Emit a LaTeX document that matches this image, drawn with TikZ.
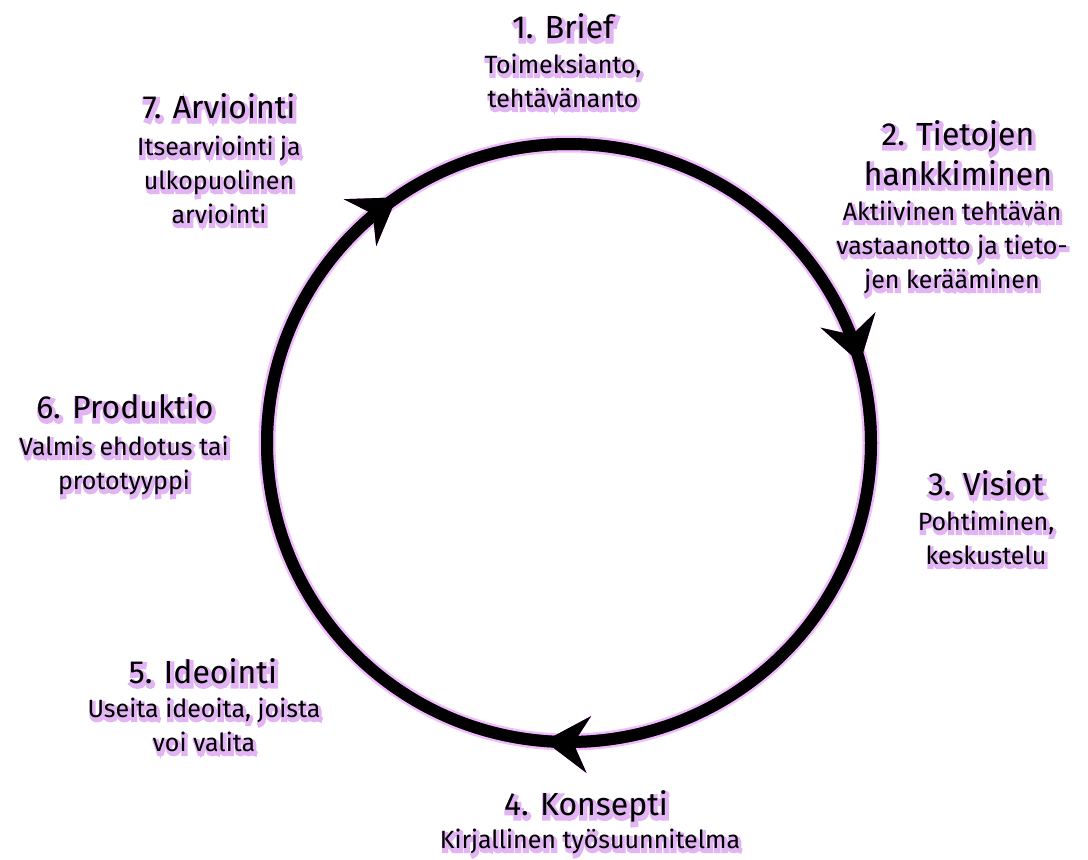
\documentclass[tikz,border=0pt]{standalone}
\usepackage{fontspec}
\setmainfont{Fira Sans}
\newfontfamily\glowfont{Fira Sans}[FakeBold=16]
\usetikzlibrary{arrows.meta,decorations.markings}
\definecolor{glowc}{RGB}{226,180,244}
\definecolor{ringglow}{RGB}{200,45,232}
\definecolor{ringhalo}{RGB}{238,190,250}
\newcommand\glw[1]{\leavevmode\rlap{\kern1.5pt\raisebox{-3pt}{\glowfont\color{glowc}#1}}#1}
\newcommand\lines[1]{\begin{tabular}[t]{@{}c@{}}#1\end{tabular}}
\tikzset{
 ttl/.style={inner sep=0pt, anchor=base, font=\fontsize{32}{40}\selectfont},
 sub/.style={inner sep=0pt, anchor=base, font=\fontsize{25}{34}\selectfont},
 ring/.style={decoration={markings,
   mark=at position 0.153 with {\arrow{Stealth[length=44pt,width=56pt,inset=15pt]}},
   mark=at position 0.457 with {\arrow{Stealth[length=44pt,width=56pt,inset=15pt]}},
   mark=at position 0.763 with {\arrow{Stealth[length=44pt,width=56pt,inset=15pt]}}},
   postaction={decorate}},
}
\begin{document}
\begin{tikzpicture}[x=1pt,y=1pt]
\useasboundingbox (0,0) rectangle (1088,-860);
\coordinate (c) at (569,-443);
% ring glow and ring
\draw[ring, ringhalo, line width=17pt, shift={(3.5,-3.5)}] (c) ++(180:302pt and 299pt) arc[start angle=180, end angle=-180, x radius=302pt, y radius=299pt];
\draw[ring, ringglow, line width=12pt, shift={(2.5,-2.5)}] (c) ++(180:302pt and 299pt) arc[start angle=180, end angle=-180, x radius=302pt, y radius=299pt];
\draw[ring, black, line width=12pt] (c) ++(180:302pt and 299pt) arc[start angle=180, end angle=-180, x radius=302pt, y radius=299pt];
% labels
\node[ttl] (t1) at (563,-38) {\glw{1. Brief}};
\node[sub] (s1) at (563,-73) {\lines{\glw{Toimeksianto,}\\\glw{tehtävänanto}}};
\node[ttl] (t2) at (958,-145) {\lines{\glw{2. Tietojen}\\\glw{hankkiminen}}};
\node[sub] (s2) at (952,-220) {\lines{\glw{Aktiivinen tehtävän}\\\glw{vastaanotto ja tieto-}\\\glw{jen kerääminen}}};
\node[ttl] (t3) at (986,-495) {\glw{3. Visiot}};
\node[sub] (s3) at (986,-530) {\lines{\glw{Pohtiminen,}\\\glw{keskustelu}}};
\node[ttl] (t4) at (586,-815) {\glw{4. Konsepti}};
\node[sub] (s4) at (590,-848) {\lines{\glw{Kirjallinen työsuunnitelma}}};
\node[ttl] (t5) at (203,-683) {\glw{5. Ideointi}};
\node[sub] (s5) at (204,-717) {\lines{\glw{Useita ideoita, joista}\\\glw{voi valita}}};
\node[ttl] (t6) at (125,-418) {\glw{6. Produktio}};
\node[sub] (s6) at (124,-455) {\lines{\glw{Valmis ehdotus tai}\\\glw{prototyyppi}}};
\node[ttl] (t7) at (219,-118) {\glw{7. Arviointi}};
\node[sub] (s7) at (219,-155) {\lines{\glw{Itsearviointi ja}\\\glw{ulkopuolinen}\\\glw{arviointi}}};
\end{tikzpicture}
\end{document}
